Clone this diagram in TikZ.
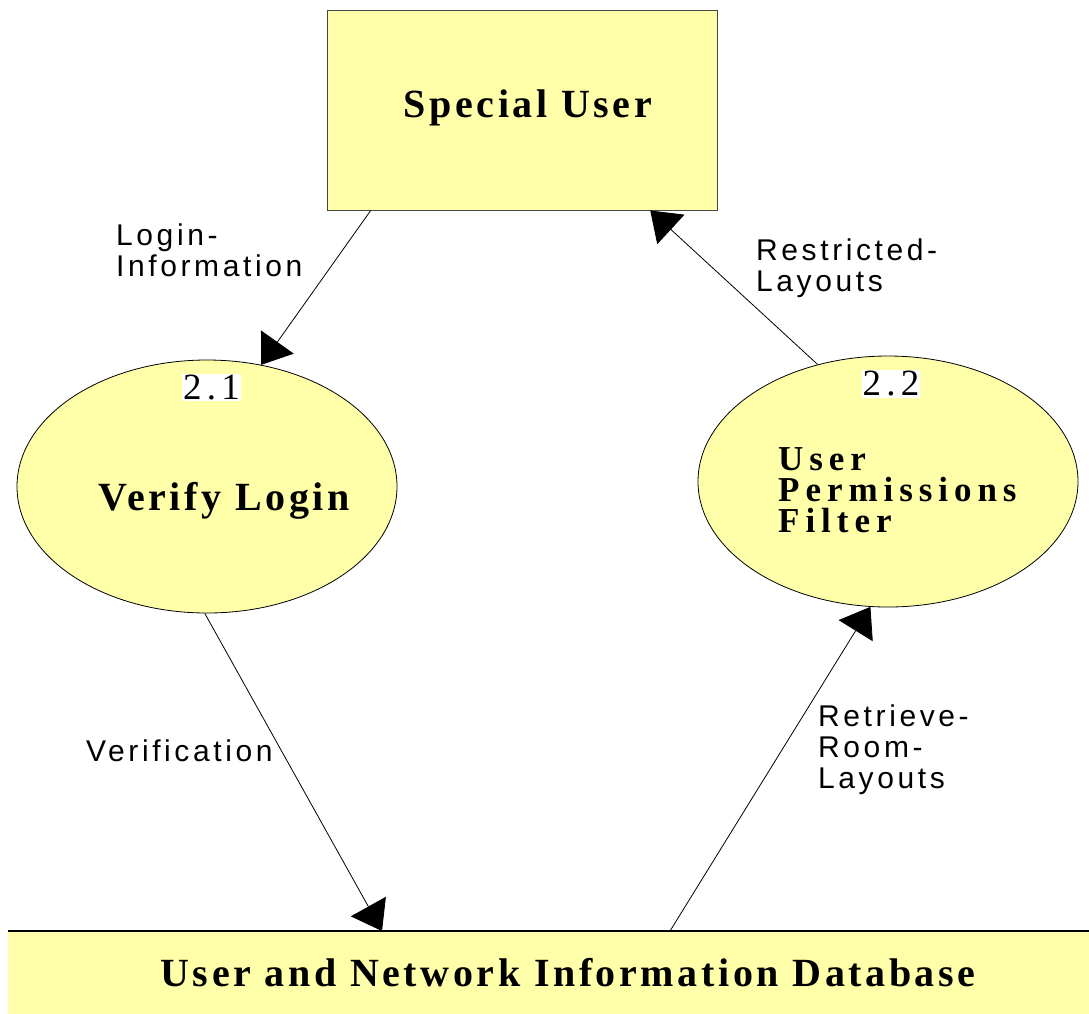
\documentclass[tikz,border=0pt]{standalone}
\usepackage{fontspec}
\setmainfont{Liberation Serif}
\newfontfamily\titlefont[LetterSpace=9]{Liberation Serif}
\newfontfamily\widetitlefont[LetterSpace=17]{Liberation Serif}
\newfontfamily\numfont[LetterSpace=14]{Liberation Serif}
\newfontfamily\flowfont[LetterSpace=12]{Liberation Sans}
\usetikzlibrary{arrows.meta,shapes.geometric,calc}
\definecolor{paleyellow}{RGB}{255,255,170}
\definecolor{edgegray}{RGB}{70,70,70}
\tikzset{
  entity/.style={draw=edgegray, line width=1pt, fill=paleyellow, inner sep=0pt},
  process/.style={ellipse, draw=black, line width=0.8pt, fill=paleyellow, inner sep=0pt},
  store/.style={fill=paleyellow, inner sep=0pt},
  title/.style={font=\titlefont\bfseries\fontsize{40}{31}\selectfont, inner sep=0pt, align=left},
  stackedtitle/.style={font=\widetitlefont\bfseries\fontsize{35}{31}\selectfont, inner sep=0pt, align=left},
  procnum/.style={font=\numfont\fontsize{37}{37}\selectfont, fill=white, inner sep=1pt},
  flowlabel/.style={font=\flowfont\fontsize{30}{31}\selectfont, inner sep=0pt, align=left, anchor=west},
  flow/.style={draw=black, line width=0.8pt, -{Triangle[length=28pt,width=40pt]}}
}
\begin{document}
\begin{tikzpicture}[x=1pt,y=-1pt]
\useasboundingbox (0,0) rectangle (1089,1013);

% external entity and data store
\node[entity, minimum width=390pt, minimum height=200pt] (su) at (522,110) {};
\node[title] (sutxt) at (528,108) {Special User};

\node[store, minimum width=1081pt, minimum height=90pt, anchor=north west] (db) at (8,931) {};
\draw[line width=1.2pt] (db.north west) -- (db.north east);
\node[title] (dbtxt) at (568,973) {User and Network Information Database};

% processes
\node[process, minimum width=380pt, minimum height=253pt] (p1) at (207,486.5) {};
\node[title] (p1txt) at (224,501) {Verify Login};
\node[procnum] (p1num) at (211.5,387.5) {2.1};

\node[process, minimum width=380pt, minimum height=251pt] (p2) at (888,481.5) {};
\node[stackedtitle, anchor=west] (p2txt) at (778,490) {User\\Permissions\\Filter};
\node[procnum] (p2num) at (891,384) {2.2};

% data flows
\coordinate (suA) at ($(su.south west)!0.113!(su.south east)$);
\coordinate (suB) at ($(su.south west)!0.828!(su.south east)$);
\coordinate (dbA) at ($(db.north west)+(374,0)$);
\coordinate (dbB) at ($(db.north west)+(662,0)$);

\draw[flow] (suA) -- (p1.66);
\draw[flow] (p2.121) -- (suB);
\draw[flow] (p1.269) -- (dbA);
\draw[flow] (dbB) -- (p2.262);

% flow labels
\node[flowlabel] (l1) at (116,250) {Login-\\Information};
\node[flowlabel] (l2) at (756,268) {Restricted-\\Layouts};
\node[flowlabel] (l3) at (86,751) {Verification};
\node[flowlabel] (l4) at (818,750) {Retrieve-\\Room-\\Layouts};
\end{tikzpicture}
\end{document}
